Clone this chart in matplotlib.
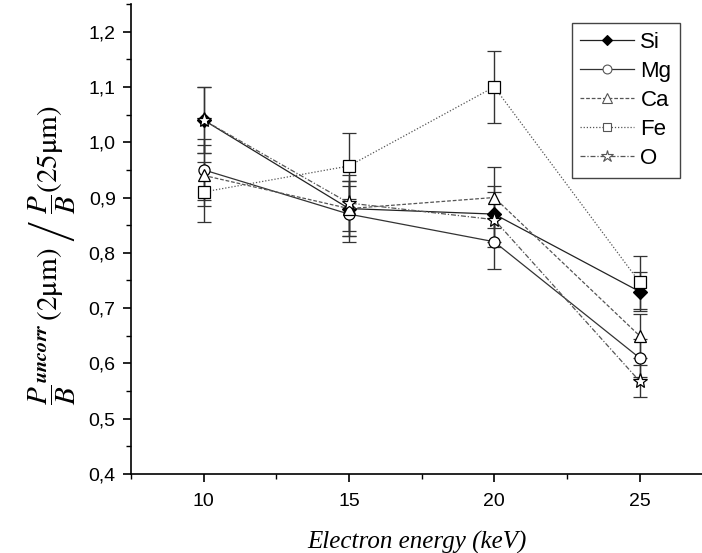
import numpy as np
import matplotlib

matplotlib.use("Agg")
import matplotlib.pyplot as plt
from matplotlib.lines import Line2D
from matplotlib.ticker import FuncFormatter, MultipleLocator

energy = [10, 15, 20, 25]

elements = ["Si", "Mg", "Ca", "Fe", "O"]
ratio = {
    "Si": [1.04, 0.88, 0.87, 0.73],
    "Mg": [0.95, 0.87, 0.82, 0.61],
    "Ca": [0.94, 0.88, 0.90, 0.65],
    "Fe": [0.91, 0.957, 1.10, 0.747],
    "O": [1.04, 0.89, 0.86, 0.568],
}
ratio_err = {
    "Si": [0.06, 0.05, 0.05, 0.035],
    "Mg": [0.055, 0.05, 0.05, 0.035],
    "Ca": [0.055, 0.05, 0.055, 0.04],
    "Fe": [0.055, 0.06, 0.065, 0.048],
    "O": [0.06, 0.05, 0.05, 0.029],
}

styles = {
    "Si": dict(marker="D", mfc="black", ls="-", ms=7, c="#222222"),
    "Mg": dict(marker="o", mfc="white", ls="-", ms=8, c="#333333"),
    "Ca": dict(marker="^", mfc="white", ls=(0, (3, 1.5)), ms=9, c="#555555"),
    "Fe": dict(marker="s", mfc="white", ls=(0, (1, 1.5)), ms=8, c="#555555"),
    "O": dict(marker="*", mfc="white", ls=(0, (4, 1.5, 1, 1.5)), ms=11, c="#555555"),
}

plt.rcParams["mathtext.fontset"] = "stix"
fig = plt.figure(figsize=(7.02, 5.53), dpi=100)
ax = fig.add_axes([0.1866, 0.1429, 0.8134, 0.8499])

handles = []
for el in elements:
    st = styles[el]
    ax.errorbar(energy, ratio[el], yerr=ratio_err[el], color=st["c"],
                ecolor="#333333", elinewidth=1, capsize=5, capthick=1,
                lw=0.9, ls=st["ls"], marker=st["marker"], ms=st["ms"],
                mfc=st["mfc"], mec="black", mew=0.9)
    handles.append(Line2D([], [], color=st["c"], lw=0.9, ls=st["ls"],
                          marker=st["marker"], ms=st["ms"] * 0.8,
                          mfc=st["mfc"], mec="black" if el == "Si" else "#555555",
                          mew=0.8, label=el))

ax.set_xlim(7.5, 27.15)
ax.set_ylim(0.4, 1.25)
ax.xaxis.set_major_locator(MultipleLocator(5))
ax.xaxis.set_minor_locator(MultipleLocator(2.5))
ax.yaxis.set_major_locator(MultipleLocator(0.1))
ax.yaxis.set_minor_locator(MultipleLocator(0.05))
ax.yaxis.set_major_formatter(FuncFormatter(lambda v, p: f"{v:.1f}".replace(".", ",")))
ax.tick_params(which="major", direction="out", length=6, width=1.2,
               labelsize=14, colors="black", pad=5)
ax.tick_params(axis="x", which="major", pad=8)
ax.tick_params(which="minor", direction="out", length=3.5, width=1.0)
for lab in ax.get_xticklabels() + ax.get_yticklabels():
    lab.set_family("Liberation Sans")

ax.spines["top"].set_visible(False)
ax.spines["right"].set_visible(False)
ax.spines["left"].set_linewidth(1.2)
ax.spines["bottom"].set_linewidth(1.2)

ax.set_xlabel("Electron energy (keV)", family="Liberation Serif",
              style="italic", fontsize=18, labelpad=15)
ax.set_ylabel(r"$\dfrac{P}{B}^{\mathbfit{uncorr}}\,(2\mathrm{\mu m})\ \left/\ \dfrac{P}{B}\right.(25\mathrm{\mu m})$",
              fontsize=21)
ax.yaxis.set_label_coords(-0.092, 0.465)

leg = ax.legend(handles=handles, loc="upper right", bbox_to_anchor=(0.962, 0.96),
                prop={"family": "Liberation Sans", "size": 16},
                fancybox=False, edgecolor="#444444", framealpha=1,
                handlelength=2.4, handletextpad=0.3, borderpad=0.4,
                labelspacing=0.36, borderaxespad=0)
leg.get_frame().set_linewidth(1.0)

fig.savefig("out.png", dpi=100)
